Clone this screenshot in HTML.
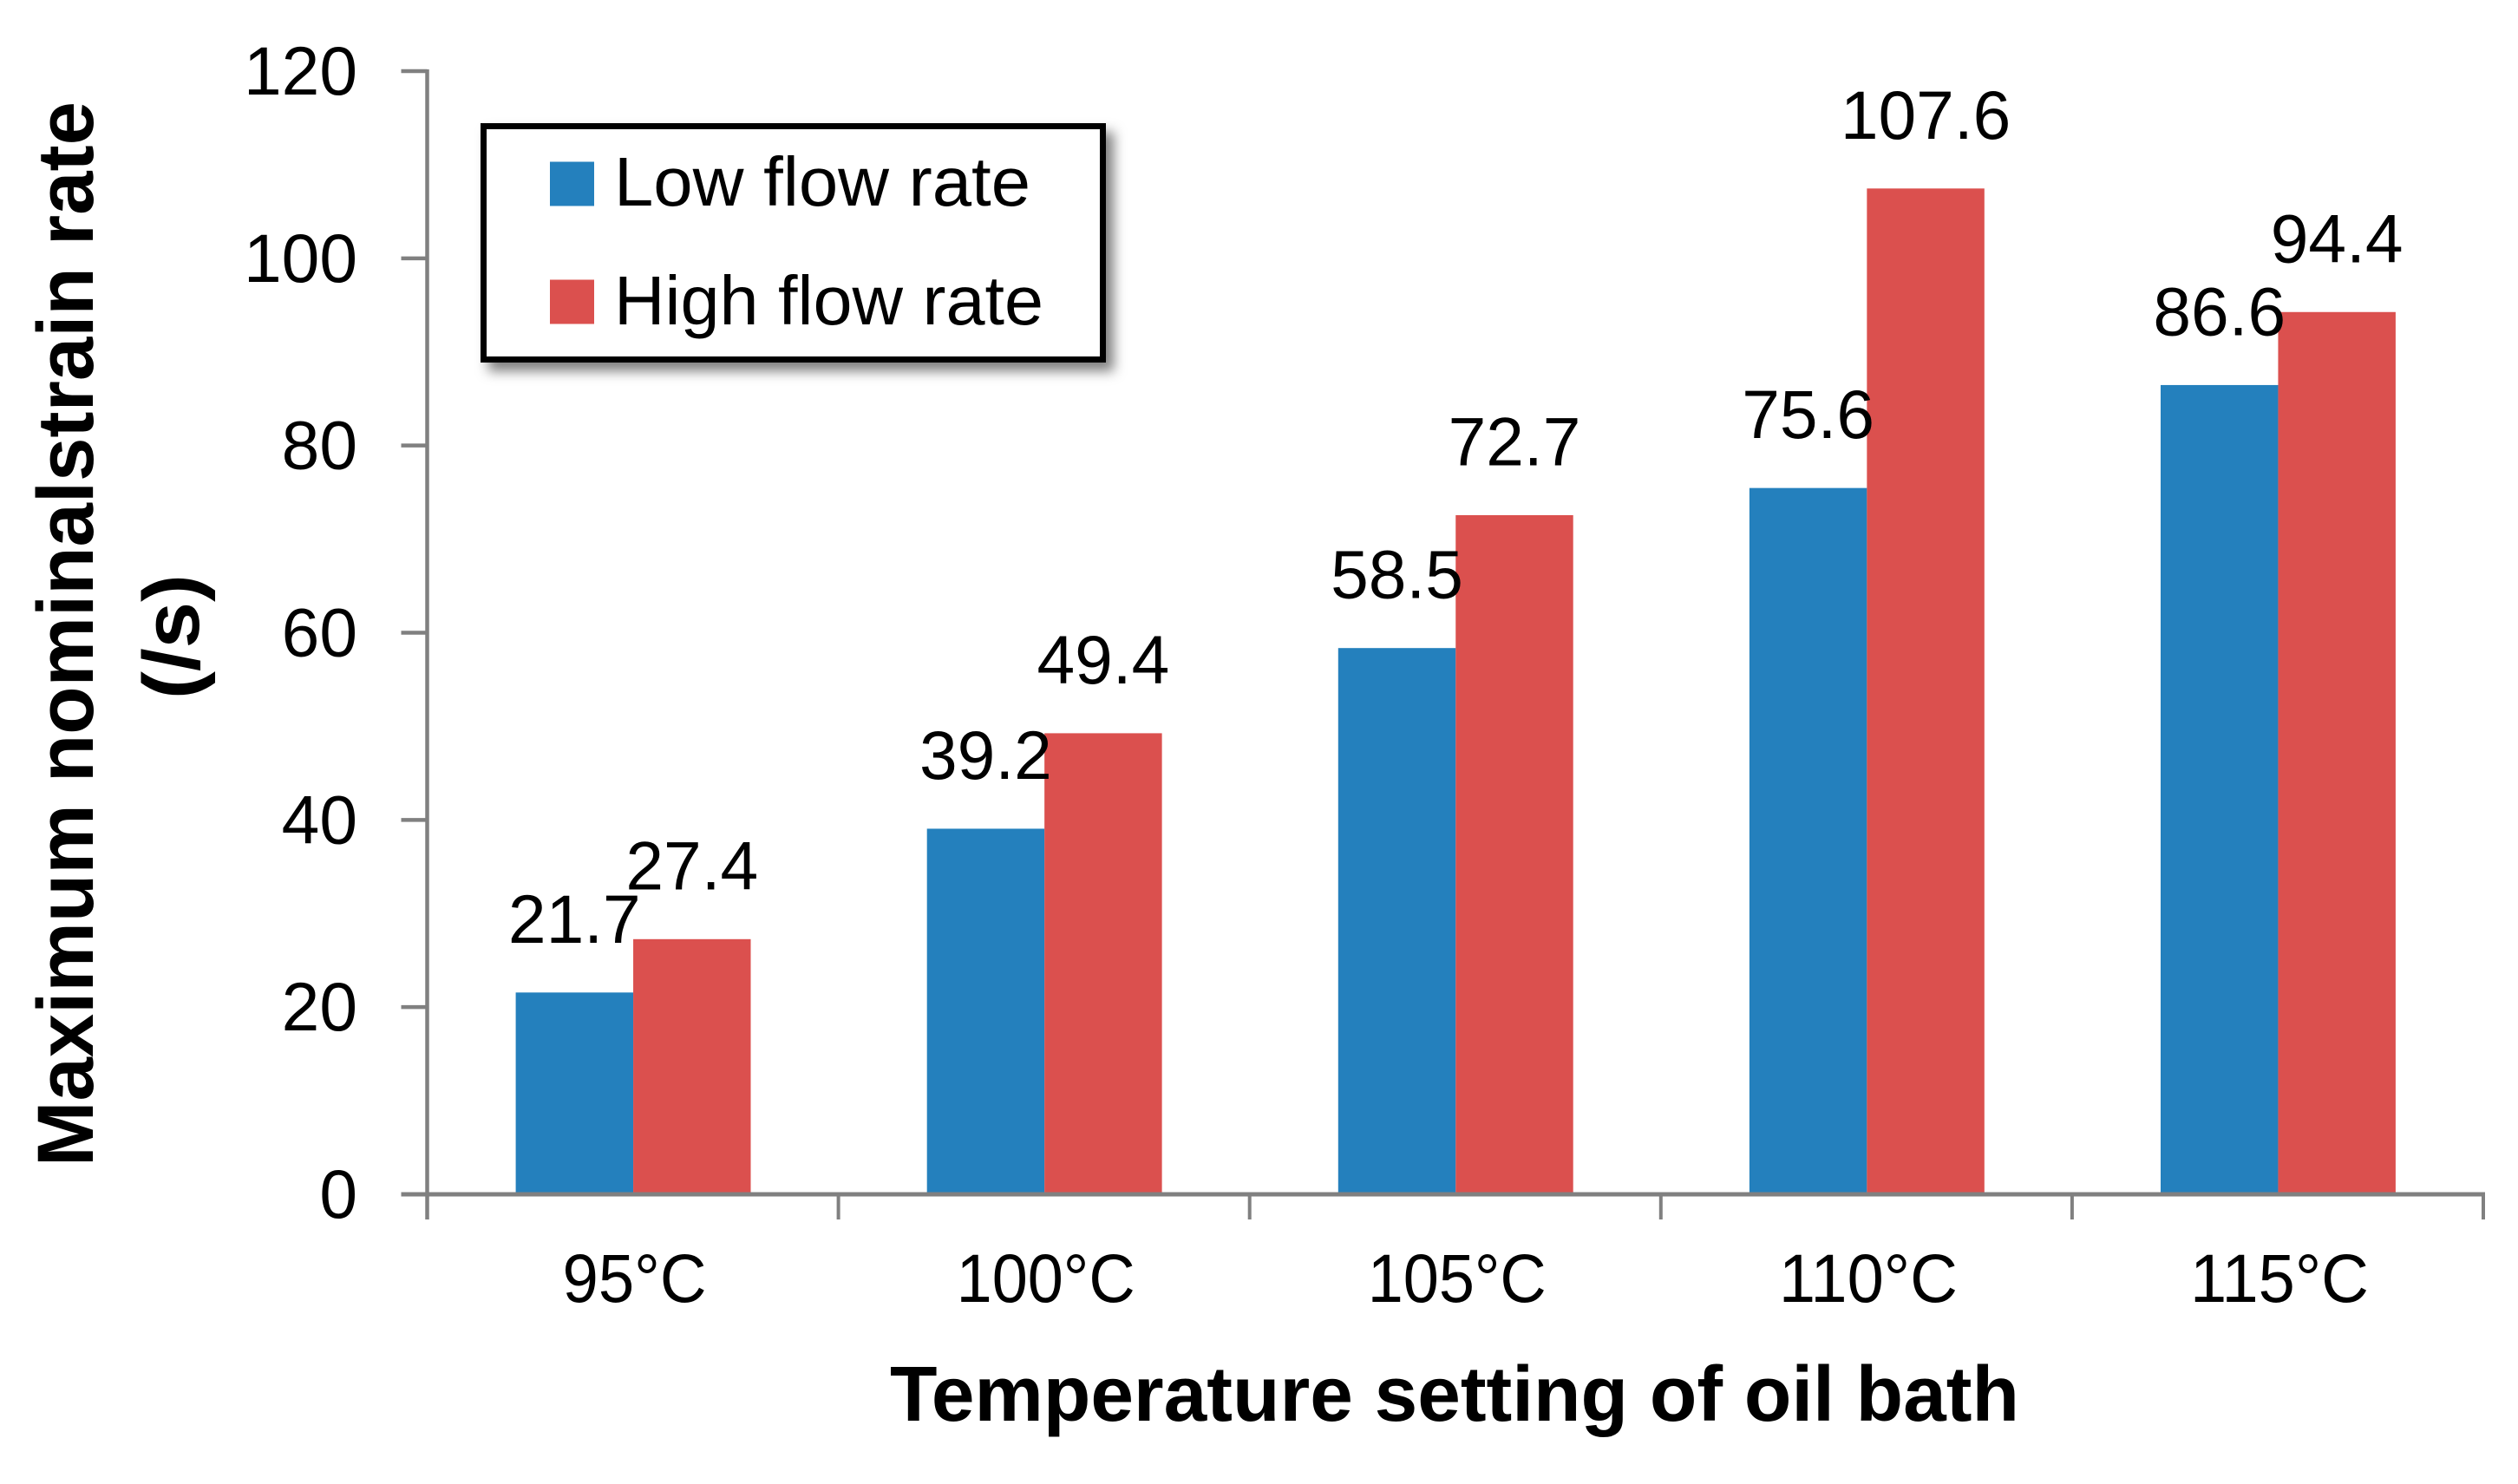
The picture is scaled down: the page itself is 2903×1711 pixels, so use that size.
<!DOCTYPE html>
<html lang="en">
<head>
<meta charset="utf-8">
<title>Maximum nominal strain rate by oil bath temperature</title>
<style>
  html, body { margin: 0; padding: 0; background: #ffffff; }
  body { width: 2903px; height: 1711px; overflow: hidden; }
  svg { display: block; }
  text { font-family: "Liberation Sans", sans-serif; fill: #000000; }
  .bold { font-weight: 700; }
</style>
</head>
<body>
<svg id="chart" xmlns="http://www.w3.org/2000/svg" width="2903" height="1711" viewBox="0 0 2903 1711">
  <defs>
    <filter id="legend-shadow" x="-10%" y="-10%" width="125%" height="130%">
      <feDropShadow dx="9" dy="10" stdDeviation="7" flood-color="#000000" flood-opacity="0.5"/>
    </filter>
  </defs>
  <rect x="0" y="0" width="2903" height="1711" fill="#ffffff"/>
  <g id="bars"></g>
  <g id="axes"></g>
  <g id="labels"></g>

  <text class="bold" font-size="92" text-anchor="middle" x="0" y="0" textLength="1228" lengthAdjust="spacingAndGlyphs" transform="translate(107,731) rotate(-90)">Maximum nominalstrain rate</text>
  <text class="bold" font-size="92" text-anchor="middle" x="0" y="0" textLength="144" lengthAdjust="spacingAndGlyphs" transform="translate(229,734) rotate(-90)">(/s)</text>
  <text class="bold" font-size="90" text-anchor="middle" x="1677" y="1638" textLength="1302" lengthAdjust="spacingAndGlyphs">Temperature setting of oil bath</text>

  <g>
    <rect x="557.5" y="145.5" width="714" height="269" fill="#ffffff" stroke="#000000" stroke-width="7" filter="url(#legend-shadow)"/>
    <rect x="634" y="186.5" width="51" height="51" fill="#2480bd"/>
    <text font-size="80" x="708" y="237" textLength="480" lengthAdjust="spacingAndGlyphs">Low flow rate</text>
    <rect x="634" y="322.5" width="51" height="51" fill="#db504e"/>
    <text font-size="80" x="708" y="374" textLength="495" lengthAdjust="spacingAndGlyphs">High flow rate</text>
  </g>
</svg>
<script>
const categories = ["95°C", "100°C", "105°C", "110°C", "115°C"];
const lowFlow = [21.7, 39.2, 58.5, 75.6, 86.6];
const highFlow = [27.4, 49.4, 72.7, 107.6, 94.4];
const yTicks = [0, 20, 40, 60, 80, 100, 120];

const plotLeft = 492.5, plotRight = 2863, plotBottom = 1377, plotTop = 82, yMax = 120;
const barShiftX = 0.5, barShiftY = 1.5;
const NS = "http://www.w3.org/2000/svg";
const axes = document.getElementById("axes");
const bars = document.getElementById("bars");
const labels = document.getElementById("labels");

function yScale(v) { return plotBottom - (v / yMax) * (plotBottom - plotTop); }
function bandWidth() { return (plotRight - plotLeft) / categories.length; }
function xCenter(i) { return plotLeft + bandWidth() * (i + 0.5); }
function barWidth() { return bandWidth() / 3.5; }

function makeLine(x1, y1, x2, y2, w) {
  const l = document.createElementNS(NS, "line");
  l.setAttribute("x1", x1);
  l.setAttribute("y1", y1);
  l.setAttribute("x2", x2);
  l.setAttribute("y2", y2);
  l.setAttribute("stroke", "#808080");
  l.setAttribute("stroke-width", w);
  return l;
}
function makeText(x, y, str, anchor) {
  const t = document.createElementNS(NS, "text");
  t.setAttribute("x", x);
  t.setAttribute("y", y);
  t.setAttribute("font-size", "78.5");
  t.setAttribute("text-anchor", anchor);
  t.textContent = str;
  return t;
}

const yAxisLine = makeLine(plotLeft, plotTop - 2, plotLeft, plotBottom + 29, 4.5);


axes.appendChild(yAxisLine);

const xAxisLine = makeLine(plotLeft - 30, plotBottom, plotRight + 2, plotBottom, 5);


axes.appendChild(xAxisLine);

yTicks.forEach(function (v) {
  const y = yScale(v);
  const tick = makeLine(plotLeft - 30, y, plotLeft, y, 4.5);
  
  
  axes.appendChild(tick);
  const lab = makeText(412, y + 27, String(v), "end");
  
  
  labels.appendChild(lab);
});

for (let i = 0; i <= categories.length; i++) {
  const x = plotLeft + bandWidth() * i;
  const tick = makeLine(x, plotBottom, x, plotBottom + 29, 4);
  
  
  axes.appendChild(tick);
}

categories.forEach(function (c, i) {
  const lab = makeText(xCenter(i) + 2, 1501, c, "middle");
  
  
  lab.setAttribute("textLength", c.length === 4 ? 166 : 206);
  lab.setAttribute("lengthAdjust", "spacingAndGlyphs");
  labels.appendChild(lab);

  const w = barWidth();
  const cx = xCenter(i) + barShiftX;

  const lowTop = yScale(lowFlow[i]);
  const lowBar = document.createElementNS(NS, "rect");
  
  
  lowBar.setAttribute("x", cx - w);
  lowBar.setAttribute("y", lowTop + barShiftY);
  lowBar.setAttribute("width", w);
  lowBar.setAttribute("height", plotBottom - lowTop - barShiftY);
  lowBar.setAttribute("fill", "#2480bd");
  bars.appendChild(lowBar);

  const highTop = yScale(highFlow[i]);
  const highBar = document.createElementNS(NS, "rect");
  
  
  highBar.setAttribute("x", cx);
  highBar.setAttribute("y", highTop + barShiftY);
  highBar.setAttribute("width", w);
  highBar.setAttribute("height", plotBottom - highTop - barShiftY);
  highBar.setAttribute("fill", "#db504e");
  bars.appendChild(highBar);

  const lowLab = makeText(cx - w / 2, lowTop - 56, lowFlow[i].toFixed(1), "middle");
  
  
  labels.appendChild(lowLab);

  const highLab = makeText(cx + w / 2, highTop - 56, highFlow[i].toFixed(1), "middle");
  
  
  labels.appendChild(highLab);
});
</script>
</body>
</html>
